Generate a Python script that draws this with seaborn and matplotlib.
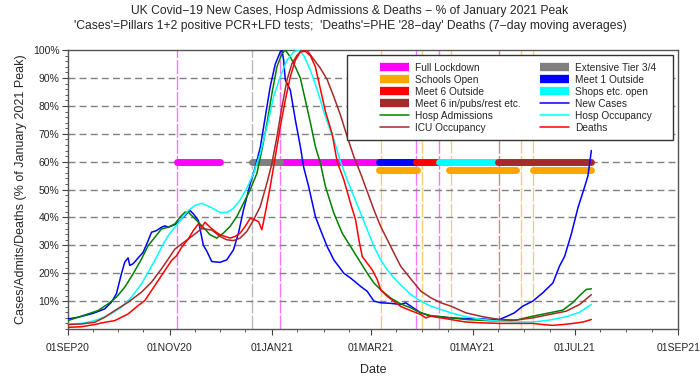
import matplotlib
matplotlib.use("Agg")
import matplotlib.pyplot as plt
import matplotlib.dates as mdates
from matplotlib.lines import Line2D
from matplotlib.patches import Rectangle
import seaborn as sns
import pandas as pd

# === DATA (% of January 2021 peak) ===
START = pd.Timestamp("2020-09-01")

# day offsets from 01SEP20 and values per series
cases_day = [0, 6, 15, 22, 26, 29, 30, 32, 34, 36, 37, 39, 42, 45, 48, 50, 53, 56, 58, 60,
             65, 68, 73, 75, 78, 81, 83, 86, 91, 95, 99, 102, 105, 109, 112, 115, 118, 121,
             124, 127, 128, 129, 130, 133, 136, 139, 141, 144, 148, 151, 155, 159, 165, 169,
             175, 179, 183, 187, 193, 199, 202, 205, 211, 217, 223, 229, 235, 240, 246, 252,
             258, 262, 267, 272, 278, 284, 290, 294, 297, 301, 305, 309, 311, 313]
cases_pct = [3.6, 4.2, 5.6, 7.2, 9.6, 12.6, 15, 19.8, 24, 25.5, 22.8, 23.4, 25.5, 27.5, 31.7,
             34.7, 35.3, 36.5, 37, 36.5, 37.7, 39.5, 42.5, 41.3, 38.9, 30, 28, 24.2, 23.9, 24.8,
             28.4, 34.4, 42.7, 52, 58, 65, 76, 87, 95, 99.4, 100, 96.4, 89.3, 85.7, 75, 65.4,
             58, 51, 40.3, 35.6, 29.6, 24.8, 20, 18.3, 15.3, 13.5, 10, 9.4, 9.2, 8.8, 9.4, 8.2,
             5.8, 4.6, 4.4, 4, 3.8, 3.7, 3.7, 3.4, 3.4, 4.4, 5.8, 8.2, 10, 13, 16.5, 22.6, 26,
             34, 43.5, 51, 55, 64]

adm_day = [0, 6, 12, 18, 24, 29, 34, 39, 44, 48, 52, 56, 60, 64, 67, 70, 72, 75, 78, 82, 85,
           89, 93, 97, 101, 105, 109, 113, 116, 119, 122, 125, 128, 130, 133, 136, 139, 142,
           145, 148, 151, 154, 159, 164, 169, 174, 179, 183, 187, 193, 199, 205, 211, 217,
           223, 229, 238, 248, 258, 268, 278, 288, 296, 302, 306, 310, 313]
adm_pct = [3, 4.2, 5.4, 6.6, 9, 11.4, 15, 19.8, 25.1, 29.9, 32.9, 35.9, 36.5, 37.7, 40.1,
           41.9, 41.9, 40.1, 38.3, 35.8, 33.8, 32.6, 34.4, 36.8, 40.3, 45.1, 49.9, 55.8, 64.2,
           73.7, 84.5, 94, 98.8, 100, 97.6, 94, 90, 82, 74, 65.4, 59.4, 51.1, 41.6, 34.4, 29.6,
           24.8, 20, 16.5, 14.1, 11.1, 9, 7.6, 5.8, 4.8, 4.4, 4, 3.4, 3.1, 2.8, 3.2, 4.6, 5.8,
           6.8, 9.5, 12, 14.2, 14.4]

occ_day = [0, 8, 16, 24, 32, 38, 44, 48, 52, 56, 60, 64, 68, 72, 76, 80, 86, 91, 95, 99, 103,
           107, 111, 115, 119, 123, 127, 131, 135, 138, 141, 145, 149, 153, 157, 159, 163, 167,
           171, 175, 179, 183, 187, 191, 195, 199, 205, 211, 217, 223, 229, 238, 248, 258, 268,
           278, 288, 298, 306, 313]
occ_pct = [1.8, 2, 3, 4.8, 7.8, 11.4, 16.2, 20.4, 24.6, 29.3, 33.5, 36.5, 39.5, 42.5, 44.3,
           45.1, 43.5, 41.8, 41.8, 43.3, 46.3, 50.5, 55.8, 63, 72.6, 83.3, 90.5, 96.4, 99.4,
           100, 98.2, 92.8, 86, 78, 71, 68, 60, 53.5, 47.5, 41.6, 35.6, 29.6, 24.8, 21.2, 18.3,
           15.8, 12.4, 10, 8.2, 7, 5.8, 4.4, 3.4, 2.8, 2.5, 2.5, 3.2, 4.4, 6, 8.8]

icu_day = [0, 8, 16, 22, 28, 36, 44, 50, 56, 60, 64, 68, 72, 76, 80, 86, 91, 95, 99, 103, 107,
           111, 115, 119, 122, 125, 128, 131, 134, 137, 140, 143, 146, 151, 155, 159, 163, 167,
           171, 175, 179, 183, 187, 191, 195, 199, 205, 211, 217, 223, 229, 238, 248, 258, 268,
           278, 288, 298, 306, 313]
icu_pct = [1.6, 1.8, 2.4, 4.2, 6.6, 9.6, 13.2, 16.8, 21.6, 25.1, 28.7, 30.5, 32.3, 34.1, 36,
           35.5, 33.2, 32, 31.7, 32.6, 35, 39.1, 43.9, 52.3, 59.4, 69, 79.7, 89.3, 95.2, 98.2,
           100, 100, 97.5, 93.5, 89.5, 83.3, 76.7, 69, 61.8, 55.8, 49.3, 42.7, 36.8, 32, 27.2,
           22.5, 18, 13.6, 11.2, 9.4, 8.2, 5.8, 4.4, 3.4, 3.2, 4, 5.2, 6.4, 8.8, 12.3]

deaths_day = [0, 8, 16, 22, 28, 36, 42, 46, 50, 54, 58, 62, 65, 68, 72, 75, 78, 80, 82, 85, 88,
              91, 94, 97, 100, 103, 106, 109, 112, 114, 116, 118, 121, 124, 127, 130, 133, 136,
              139, 142, 145, 148, 151, 154, 158, 161, 165, 169, 172, 174, 176, 179, 182, 185,
              187, 191, 195, 199, 205, 211, 214, 217, 223, 229, 238, 248, 258, 268, 278, 284,
              290, 296, 302, 308, 313]
deaths_pct = [0.6, 0.8, 1.6, 2.4, 3, 5.4, 8.4, 10.2, 13.8, 17.4, 21, 24.6, 26.3, 29.3, 32.3,
              35.3, 37.7, 36.5, 38.3, 36.5, 35, 33.8, 33.2, 32.6, 33.2, 34.4, 36.8, 39.7, 39.1,
              38.5, 35.6, 41.5, 51.1, 61.8, 72.6, 82.1, 90.5, 96.4, 99.4, 99.6, 98, 94, 86, 78,
              70, 60, 53.5, 45.1, 39.2, 32, 26, 23.6, 21.2, 17.7, 14.1, 11.7, 9.9, 8.1, 6.6, 5.2,
              4, 4.6, 4, 3.4, 2.5, 2.2, 2, 2, 2, 1.6, 1.3, 1.6, 2, 2.5, 3.4]

SERIES = ["New Cases", "Hosp Admissions", "Hosp Occupancy", "ICU Occupancy", "Deaths"]
SERIES_COLORS = ["#0000FF", "#008000", "#00FFFF", "#A52A2A", "#FF0000"]

# restriction periods drawn as bars at 60% (schools at 57%)
period_names = ["Full Lockdown", "Full Lockdown", "Extensive Tier 3/4", "Meet 1 Outside",
                "Meet 6 Outside", "Shops etc. open", "Meet 6 in/pubs/rest etc.",
                "Schools Open", "Schools Open", "Schools Open"]
period_start = ["2020-11-05", "2021-01-06", "2020-12-20", "2021-03-06", "2021-03-28",
                "2021-04-11", "2021-05-16", "2021-03-06", "2021-04-17", "2021-06-06"]
period_end = ["2020-12-01", "2021-03-06", "2021-01-06", "2021-03-28", "2021-04-11",
              "2021-05-16", "2021-07-11", "2021-03-29", "2021-05-27", "2021-07-11"]
period_level = [60, 60, 60, 60, 60, 60, 60, 57, 57, 57]

# event marker lines
event_dates = ["2020-11-05", "2020-12-20", "2021-01-06", "2021-03-07", "2021-03-28",
               "2021-04-01", "2021-04-11", "2021-04-18", "2021-05-17", "2021-05-30", "2021-06-06"]
event_kind = ["Full Lockdown", "Extensive Tier 3/4", "Full Lockdown", "Schools Open",
              "Full Lockdown", "Schools Open", "Full Lockdown", "Schools Open",
              "Meet 6 in/pubs/rest etc.", "Schools Open", "Schools Open"]

PERIOD_COLORS = {
    "Full Lockdown": "#FF00FF",
    "Extensive Tier 3/4": "#808080",
    "Schools Open": "#FFA500",
    "Meet 1 Outside": "#0000FF",
    "Meet 6 Outside": "#FF0000",
    "Shops etc. open": "#00FFFF",
    "Meet 6 in/pubs/rest etc.": "#A52A2A",
}

xtick_dates = ["2020-09-01", "2020-11-01", "2021-01-01", "2021-03-01", "2021-05-01",
               "2021-07-01", "2021-09-01"]
xtick_labels = ["01SEP20", "01NOV20", "01JAN21", "01MAR21", "01MAY21", "01JUL21", "01SEP21"]
ytick_vals = [10, 20, 30, 40, 50, 60, 70, 80, 90, 100]
ytick_labels = [f"{v}%" for v in ytick_vals]

TITLE1 = "UK Covid\u221219 New Cases, Hosp Admissions & Deaths \u2212 % of January 2021 Peak"
TITLE2 = ("'Cases'=Pillars 1+2 positive PCR+LFD tests;  'Deaths'=PHE '28\u2212day' Deaths "
          "(7\u2212day moving averages)")


def build_frame():
    parts = []
    for name, days, vals in zip(SERIES,
                                [cases_day, adm_day, occ_day, icu_day, deaths_day],
                                [cases_pct, adm_pct, occ_pct, icu_pct, deaths_pct]):
        parts.append(pd.DataFrame({
            "date": START + pd.to_timedelta(days, unit="D"),
            "pct": vals,
            "series": name,
        }))
    return pd.concat(parts, ignore_index=True)


def main():
    sns.set_theme(style="white")
    plt.rcParams["font.family"] = ["Liberation Sans", "DejaVu Sans"]

    fig = plt.figure(figsize=(7.0, 3.83), dpi=100)
    ax = fig.add_axes([0.097, 0.141, 0.872, 0.728])

    # event lines
    for d, kind in zip(event_dates, event_kind):
        ax.axvline(pd.Timestamp(d), color=PERIOD_COLORS[kind], alpha=0.55, lw=1.0,
                   linestyle=(0, (10, 1.5)), zorder=1)

    # horizontal dashed grid
    for v in ytick_vals[:-1]:
        ax.axhline(v, color="#808080", lw=1.0, linestyle=(0, (5, 3)), zorder=1.5)

    # restriction bars
    for name, s, e, lev in zip(period_names, period_start, period_end, period_level):
        ax.plot([pd.Timestamp(s), pd.Timestamp(e)], [lev, lev], color=PERIOD_COLORS[name],
                lw=5, solid_capstyle="round", zorder=3)

    # curves
    df = build_frame()
    sns.lineplot(data=df, x="date", y="pct", hue="series", hue_order=SERIES,
                 palette=SERIES_COLORS, estimator=None, sort=True, lw=1.1,
                 legend=False, ax=ax, zorder=5)

    ax.set_xlim(pd.Timestamp("2020-09-01"), pd.Timestamp("2021-09-01"))
    ax.set_ylim(0, 100)

    ax.set_xticks([pd.Timestamp(d) for d in xtick_dates])
    ax.set_xticklabels(xtick_labels, fontsize=7.5)
    ax.xaxis.set_minor_locator(mdates.MonthLocator(bymonthday=[1, 16]))
    ax.set_yticks(ytick_vals)
    ax.set_yticklabels(ytick_labels, fontsize=7.5)
    ax.yaxis.set_minor_locator(matplotlib.ticker.MultipleLocator(2))
    ax.tick_params(axis="both", which="major", direction="out", length=4, width=0.8,
                   color="#404040", bottom=True, left=True, pad=2)
    ax.tick_params(axis="both", which="minor", direction="out", length=2, width=0.6,
                   color="#404040", bottom=True, left=True)
    ax.tick_params(axis="x", pad=6)

    for sp in ax.spines.values():
        sp.set_color("#555555")
        sp.set_linewidth(1.0)

    ax.set_xlabel("Date", fontsize=9, labelpad=8)
    ax.set_ylabel("Cases/Admits/Deaths (% of January 2021 Peak)", fontsize=9, labelpad=4)

    fig.text(0.5, 0.972, TITLE1, ha="center", va="center", fontsize=8.7)
    fig.text(0.5, 0.932, TITLE2, ha="center", va="center", fontsize=8.7)

    # legend box drawn separately so it can be wider than the entries
    ax.add_patch(Rectangle((0.457, 0.677), 0.535, 0.305, transform=ax.transAxes,
                           facecolor="white", edgecolor="#333333", lw=1.0, zorder=9))

    def bar(c):
        return Line2D([], [], color=c, lw=6, solid_capstyle="butt")

    def line(c):
        return Line2D([], [], color=c, lw=1.1)

    # column-wise fill
    handles = [bar(PERIOD_COLORS["Full Lockdown"]), bar(PERIOD_COLORS["Schools Open"]),
               bar(PERIOD_COLORS["Meet 6 Outside"]), bar(PERIOD_COLORS["Meet 6 in/pubs/rest etc."]),
               line("#008000"), line("#A52A2A"),
               bar(PERIOD_COLORS["Extensive Tier 3/4"]), bar(PERIOD_COLORS["Meet 1 Outside"]),
               bar(PERIOD_COLORS["Shops etc. open"]), line("#0000FF"),
               line("#00FFFF"), line("#FF0000")]
    labels = ["Full Lockdown", "Schools Open", "Meet 6 Outside", "Meet 6 in/pubs/rest etc.",
              "Hosp Admissions", "ICU Occupancy",
              "Extensive Tier 3/4", "Meet 1 Outside", "Shops etc. open", "New Cases",
              "Hosp Occupancy", "Deaths"]
    leg = ax.legend(handles, labels, ncol=2, loc="upper left",
                    bbox_to_anchor=(0.511, 0.955), fontsize=7.3, frameon=False,
                    handlelength=2.9, handletextpad=0.55, labelspacing=0.2,
                    columnspacing=1.9, borderpad=0, borderaxespad=0)
    leg.set_zorder(10)

    fig.savefig("out.png", dpi=100)
    plt.close(fig)


if __name__ == "__main__":
    main()
